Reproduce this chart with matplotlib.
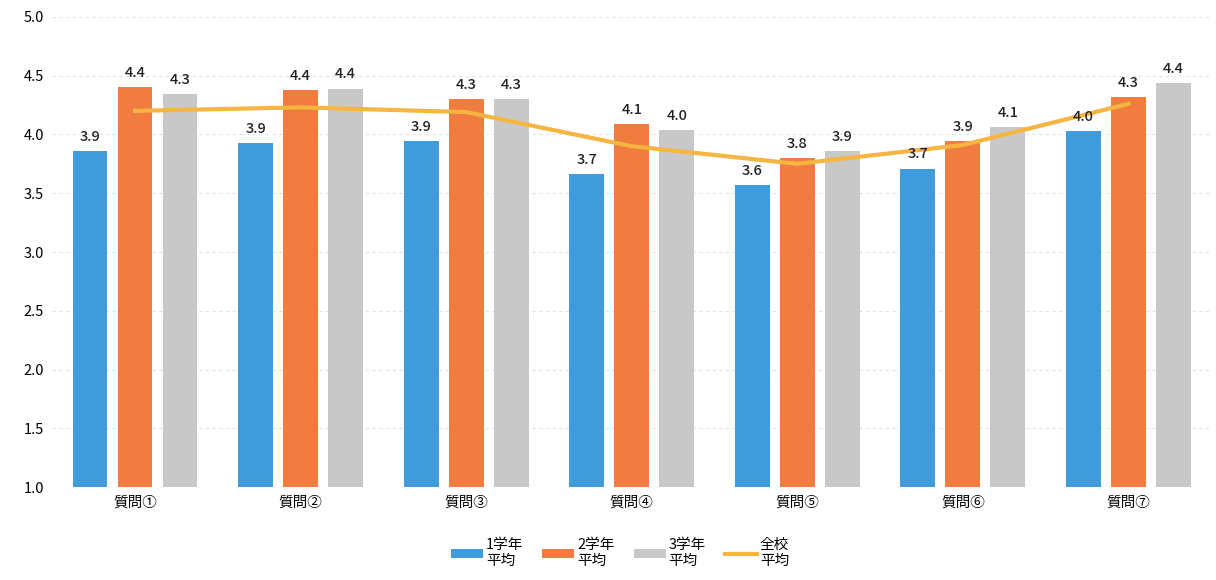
import matplotlib.pyplot as plt
import numpy as np

plt.rcParams['font.family'] = ['Noto Sans CJK JP', 'DejaVu Sans']

questions = ['質問①', '質問②', '質問③', '質問④', '質問⑤', '質問⑥', '質問⑦']
grade1 = [3.86, 3.93, 3.94, 3.66, 3.57, 3.71, 4.03]
grade2 = [4.40, 4.38, 4.30, 4.09, 3.80, 3.94, 4.32]
grade3 = [4.34, 4.39, 4.30, 4.04, 3.86, 4.06, 4.44]
school = [4.20, 4.23, 4.19, 3.90, 3.75, 3.91, 4.26]
labels = ['1学年\n平均', '2学年\n平均', '3学年\n平均', '全校\n平均']

c1 = '#3f9bd9'
c2 = '#f07c40'
c3 = '#c8c8c8'
c_line = '#f5b540'

fig = plt.figure(figsize=(12.16, 5.8), dpi=100)
ax = fig.add_axes([0.043, 0.16, 0.953, 0.811])

x = np.arange(len(questions))
w = 0.21
off = 0.272
b1 = ax.bar(x - off, grade1, w, color=c1, label=labels[0], zorder=2)
b2 = ax.bar(x, grade2, w, color=c2, label=labels[1], zorder=2)
b3 = ax.bar(x + off, grade3, w, color=c3, label=labels[2], zorder=2)
ln, = ax.plot(x, school, color=c_line, lw=3, label=labels[3], zorder=3)

for bars in (b1, b2, b3):
    for b in bars:
        h = b.get_height()
        ax.text(b.get_x() + b.get_width() / 2, h + 0.06, f'{h:.1f}',
                ha='center', va='bottom', fontsize=10.5, color='#222222',
                fontweight='medium')

ax.set_ylim(1.0, 5.0)
ax.set_xlim(-0.5, len(questions) - 0.5)
ax.set_yticks(np.arange(1.0, 5.01, 0.5))
ax.set_yticklabels([f'{v:.1f}' for v in np.arange(1.0, 5.01, 0.5)], fontsize=10.5)
ax.set_xticks(x)
ax.set_xticklabels(questions, fontsize=10.5)
ax.tick_params(length=0, pad=6)
ax.grid(axis='y', color='#e2e2e2', linestyle=(0, (3, 3)), lw=0.8, zorder=0)
for s in ax.spines.values():
    s.set_visible(False)

ax.legend([b1, b2, b3, ln], labels, loc='upper center', bbox_to_anchor=(0.49, -0.08),
          ncol=4, frameon=False, fontsize=10.5, handlelength=2.2, handleheight=0.5,
          columnspacing=1.3, handletextpad=0.2)

fig.savefig('out.png', dpi=100)
